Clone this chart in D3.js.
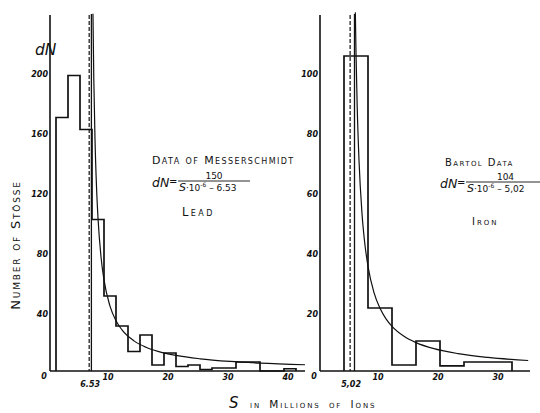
<!DOCTYPE html>
<html>
<head>
<meta charset="utf-8">
<script src="https://cdn.jsdelivr.net/npm/d3@7"></script>
<style>
  body { margin: 0; background: #fff; }
  text { font-family: "DejaVu Sans", sans-serif; fill: #111; }
  .tick-label { font-size: 8px; font-style: italic; font-weight: bold; }
  .caps { font-variant: small-caps; }
</style>
</head>
<body>
<svg width="540" height="413"></svg>
<script>
// Lead, data of Messerschmidt: bin edges (S in millions of ions) and counts
const leadEdges = [1, 3, 5, 7, 9, 11, 13, 15, 17, 19, 21, 23, 25, 27, 29, 31, 33, 35, 37, 39, 41];
const leadCounts = [169, 197, 161, 101, 50, 30, 13, 24, 4, 12, 3, 4, 1, 2, 2, 6, 6, 0, 0, 1.5];
// Iron, Bartol data
const ironEdges = [4, 8, 12, 16, 20, 24, 28, 32];
const ironCounts = [105, 21, 2, 10, 1.7, 3, 3];

// fitted curves dN = A / (S - S0), constants as printed on the chart
const leadFit = { a: 150, s0: 6.53, label: '6.53' };
const ironFit = { a: 104, s0: 5.02, label: '5,02' };
const leadCurveS = [7.16, 7.3, 7.5, 7.75, 8, 8.5, 9, 10, 11, 12, 14, 16, 18, 21, 25, 30, 35, 42.5];
const ironCurveS = [5.89, 6, 6.2, 6.5, 7, 7.5, 8, 9, 10, 11, 12, 14, 16, 19, 23, 28, 34.7];
// solid limit lines next to the dashed ones
const leadLimit = 6.9;
const ironLimit = 5.75;

const leadXTicks = [10, 20, 30, 40];
const leadYTicks = [40, 80, 120, 160, 200];
const ironXTicks = [10, 20, 30];
const ironYTicks = [20, 40, 60, 80, 100];

const svg = d3.select('svg');

const stepPoints = (edges, counts) => {
  const pts = [[edges[0], 0]];
  counts.forEach((c, i) => pts.push([edges[i], c]));
  pts.push([edges[edges.length - 1], counts[counts.length - 1]]);
  pts.push([edges[edges.length - 1], 0]);
  return pts;
};

const panel = (g, { x, y, edges, counts, fit, curveS, limit, xTicks, yTicks, baseEnd }) => {
  const x0 = x(0);
  const yTop = y.range()[1];
  const yBase = y(0);

  // y axis line and baseline
  g.append('line').attr('x1', x0).attr('x2', x0).attr('y1', yTop + 1).attr('y2', yBase)
    .attr('stroke', '#111').attr('stroke-width', 1.6);
  g.append('line').attr('x1', x0).attr('x2', baseEnd).attr('y1', yBase).attr('y2', yBase)
    .attr('stroke', '#111').attr('stroke-width', 1.3);

  // dashed line at S0, solid line at limit
  g.append('line').attr('x1', x(fit.s0)).attr('x2', x(fit.s0)).attr('y1', yTop + 1).attr('y2', yBase)
    .attr('stroke', '#111').attr('stroke-width', 1.2).attr('stroke-dasharray', '4,2');
  g.append('line').attr('x1', x(limit)).attr('x2', x(limit)).attr('y1', yTop).attr('y2', yBase)
    .attr('stroke', '#111').attr('stroke-width', 1.3);

  // histogram
  const stepLine = d3.line().x(d => x(d[0])).y(d => y(d[1])).curve(d3.curveStepAfter);
  g.append('path').attr('d', stepLine(stepPoints(edges, counts)))
    .attr('fill', 'none').attr('stroke', '#111').attr('stroke-width', 1.7);

  // fitted curve
  const curve = d3.line().x(s => x(s)).y(s => y(fit.a / (s - fit.s0))).curve(d3.curveMonotoneX);
  g.append('path').attr('d', curve(curveS))
    .attr('fill', 'none').attr('stroke', '#111').attr('stroke-width', 1.2);

  // tick labels
  g.selectAll('text.xt').data(xTicks).join('text')
    .attr('class', 'tick-label xt')
    .attr('x', d => x(d) - 2).attr('y', yBase + 9)
    .attr('text-anchor', 'middle').text(d => d);
  g.selectAll('text.yt').data(yTicks).join('text')
    .attr('class', 'tick-label yt')
    .attr('x', x0 - 2).attr('y', d => y(d) + 5.5)
    .attr('text-anchor', 'end').text(d => d);
  g.append('text').attr('class', 'tick-label')
    .attr('x', x0 - 6).attr('y', yBase + 8).attr('text-anchor', 'middle').text('0');
  g.append('text').attr('class', 'tick-label')
    .attr('x', x(fit.s0) + 1).attr('y', yBase + 16).attr('text-anchor', 'middle').text(fit.label);
};

const xLead = d3.scaleLinear().domain([0, 42.5]).range([50, 305]);
const yLead = d3.scaleLinear().domain([0, 238]).range([371, 14]);
const xIron = d3.scaleLinear().domain([0, 35]).range([320, 530]);
const yIron = d3.scaleLinear().domain([0, 119]).range([371, 14]);

svg.append('g').call(panel, {
  x: xLead, y: yLead, edges: leadEdges, counts: leadCounts, fit: leadFit,
  curveS: leadCurveS, limit: leadLimit, xTicks: leadXTicks, yTicks: leadYTicks, baseEnd: 305
});
svg.append('g').call(panel, {
  x: xIron, y: yIron, edges: ironEdges, counts: ironCounts, fit: ironFit,
  curveS: ironCurveS, limit: ironLimit, xTicks: ironXTicks, yTicks: ironYTicks, baseEnd: 530
});

// annotations
const formula = (x, y, num, s0, lineEnd) => {
  svg.append('text').attr('x', x).attr('y', y + 6)
    .attr('font-size', 12.5).attr('font-style', 'italic').text('dN');
  svg.append('text').attr('x', x + 17).attr('y', y + 4).attr('font-size', 10).text('=');
  const fx = x + 26;
  svg.append('line').attr('x1', fx).attr('x2', lineEnd).attr('y1', y).attr('y2', y)
    .attr('stroke', '#111').attr('stroke-width', 0.9);
  svg.append('text').attr('x', (fx + lineEnd) / 2).attr('y', y - 2)
    .attr('font-size', 9).attr('text-anchor', 'middle').text(num);
  const den = svg.append('text').attr('x', fx + 1).attr('y', y + 10).attr('font-size', 9);
  den.append('tspan').attr('font-style', 'italic').attr('font-size', 11).text('S');
  den.append('tspan').text('·10');
  den.append('tspan').attr('font-size', 6).attr('dy', -4).text('-6');
  den.append('tspan').attr('dy', 4).text(' – ' + s0);
};

svg.append('text').attr('class', 'caps').attr('x', 152).attr('y', 164)
  .attr('font-size', 11).attr('letter-spacing', 1.4).text('Data of Messerschmidt');
formula(152, 181, leadFit.a, leadFit.label, 250);
svg.append('text').attr('class', 'caps').attr('x', 182).attr('y', 216)
  .attr('font-size', 11.5).attr('letter-spacing', 2.4).text('Lead');

svg.append('text').attr('class', 'caps').attr('x', 445).attr('y', 166)
  .attr('font-size', 10).attr('letter-spacing', 1.4).text('Bartol Data');
formula(440, 182, ironFit.a, ironFit.label, 545);
svg.append('text').attr('class', 'caps').attr('x', 472).attr('y', 225)
  .attr('font-size', 10).attr('letter-spacing', 2).text('Iron');

svg.append('text').attr('x', 35).attr('y', 55)
  .attr('font-size', 15.5).attr('font-style', 'italic').text('dN');

svg.append('text').attr('class', 'caps')
  .attr('transform', 'translate(20,245) rotate(-90)')
  .attr('text-anchor', 'middle').attr('font-size', 13).attr('letter-spacing', 1.8)
  .text('Number of Stösse');

svg.append('text').attr('x', 229).attr('y', 408)
  .attr('font-size', 15).attr('font-style', 'italic').attr('font-family', 'DejaVu Serif').text('S');
svg.append('text').attr('class', 'caps').attr('x', 250).attr('y', 408)
  .attr('font-size', 10.5).attr('letter-spacing', 1.9).attr('word-spacing', 3).text('in Millions of Ions');
</script>
</body>
</html>
